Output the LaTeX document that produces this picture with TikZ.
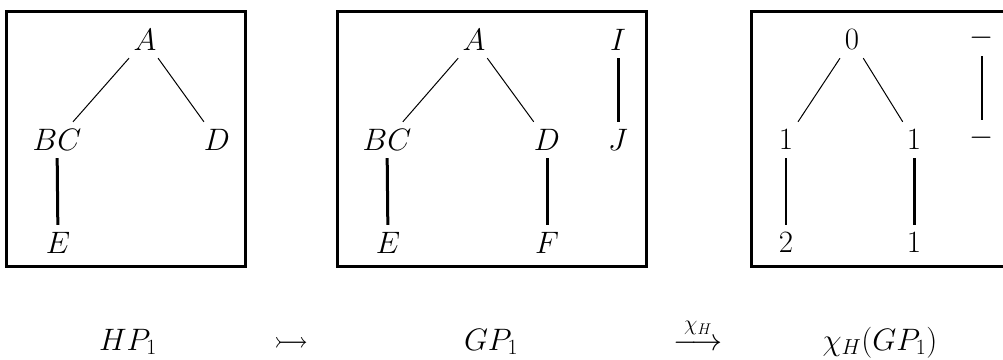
\documentclass[tikz,border=0pt]{standalone}
\usepackage{fix-cm}
\usepackage{amsmath,amssymb}
\begin{document}
\begin{tikzpicture}[x=1pt,y=-1pt,
  lab/.style={inner sep=0pt, minimum width=36pt, minimum height=36pt, font=\fontsize{31}{37}\selectfont},
  bot/.style={inner sep=0pt, anchor=base, font=\fontsize{31}{37}\selectfont},
  frame/.style={line width=3pt},
  edgethin/.style={line width=1pt},
  edgemid/.style={line width=2pt},
  edgethick/.style={line width=3pt}]
\useasboundingbox (0,0) rectangle (1003,359);
% frames
\draw[frame] (6,11) rectangle (245,266);
\draw[frame] (337,11) rectangle (646,266);
\draw[frame] (1010,11) -- (751,11) -- (751,266) -- (1010,266);
% box 1
\node[lab] (A1) at (145,40) {$A$};
\node[lab] (BC1) at (57,140) {$BC$};
\node[lab] (D1) at (217,140) {$D$};
\node[lab] (E1) at (58,243) {$E$};
\draw[edgethin] (A1) -- (BC1);
\draw[edgethin] (A1) -- (D1);
\draw[edgethick] (BC1) -- (E1);
% box 2
\node[lab] (A2) at (474,40) {$A$};
\node[lab] (BC2) at (387,140) {$BC$};
\node[lab] (D2) at (547,140) {$D$};
\node[lab] (E2) at (388,243) {$E$};
\node[lab] (F2) at (547,243) {$F$};
\node[lab] (I2) at (618,40) {$I$};
\node[lab] (J2) at (618,140) {$J$};
\draw[edgethin] (A2) -- (BC2);
\draw[edgethin] (A2) -- (D2);
\draw[edgethick] (BC2) -- (E2);
\draw[edgethick] (D2) -- (F2);
\draw[edgethick] (I2) -- (J2);
% box 3
\node[lab] (z0) at (852,40) {$0$};
\node[lab] (z1l) at (786,140) {$1$};
\node[lab] (z1r) at (914,140) {$1$};
\node[lab] (z2) at (786,243) {$2$};
\node[lab] (z1b) at (914,243) {$1$};
\node[lab] (m1) at (982,38) {$-$};
\node[lab] (m2) at (982,138) {$-$};
\draw[edgethin] (z0) -- (z1l);
\draw[edgethin] (z0) -- (z1r);
\draw[edgemid] (z1l) -- (z2);
\draw[edgethick] (z1r) -- (z1b);
\draw[edgemid] (m1) -- (m2);
% bottom row
\node[bot] (HP) at (128,350) {$HP_1$};
\node[bot] (inj) at (291,350) {$\rightarrowtail$};
\node[bot] (GP) at (491,350) {$GP_1$};
\node[bot] (chi) at (698,350) {$\stackrel{\chi_H}{\longrightarrow}$};
\node[bot] (chiGP) at (880,350) {$\chi_H(GP_1)$};
\end{tikzpicture}
\end{document}
